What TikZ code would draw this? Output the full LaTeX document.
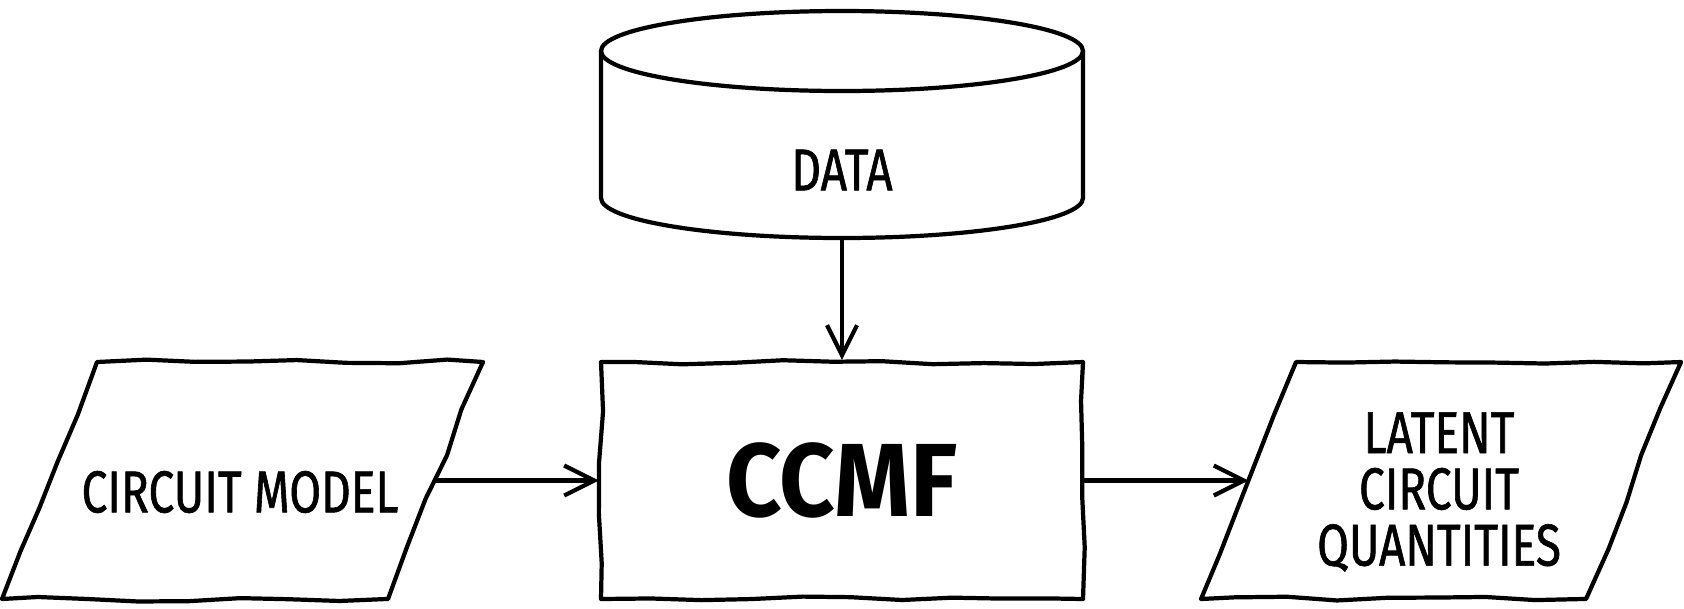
\documentclass[tikz,border=0pt]{standalone}
\usepackage{fontspec}
\setmainfont[FakeStretch=0.78,FakeBold=1]{Fira Sans}
\newfontfamily\titlefont[FakeStretch=0.93]{Fira Sans}
\usetikzlibrary{arrows.meta,decorations.pathmorphing}

\begin{document}
\begin{tikzpicture}[
  line width=1.2pt, line join=round, line cap=round,
  wobbly/.style={decorate, decoration={random steps, segment length=5mm, amplitude=0.7pt}},
  label/.style={align=center, font=\fontsize{16.8}{16}\selectfont},
  flow/.style={-{Straight Barb[length=3mm, width=3mm]}}
]
\pgfmathsetseed{7}
\useasboundingbox (0,0) rectangle (16.84,6.08);

% cilindro de datos
\draw (8.42,5.57) ellipse (2.41 and 0.4);
\draw (6.01,5.57) -- (6.01,4.10) arc (180:360:2.41 and 0.4) -- (10.83,5.57);
\node[label] (data) at (8.42,4.38) {DATA};
\coordinate (datab) at (8.42,3.70);

\node[draw, wobbly, minimum width=4.82cm, minimum height=2.37cm,
  font=\titlefont\bfseries\fontsize{29.6}{30}\selectfont] (ccmf) at (8.42,1.275) {CCMF};

% entrada y salida
\node[label] (model) at (2.40,1.16) {CIRCUIT MODEL};
\draw[wobbly] (0.97,2.46) -- (4.83,2.46) -- (3.88,0.09) -- (0.02,0.09) -- cycle;
\coordinate (modelr) at (4.355,1.275);

\node[label] (latent) at (14.39,1.16) {LATENT\\CIRCUIT\\QUANTITIES};
\draw[wobbly] (12.96,2.46) -- (16.81,2.46) -- (15.86,0.09) -- (12.01,0.09) -- cycle;
\coordinate (latentl) at (12.485,1.275);

\draw[flow] (datab) -- (ccmf.north);
\draw[flow] (modelr) -- (ccmf.west);
\draw[flow] (ccmf.east) -- (latentl);
\end{tikzpicture}
\end{document}
